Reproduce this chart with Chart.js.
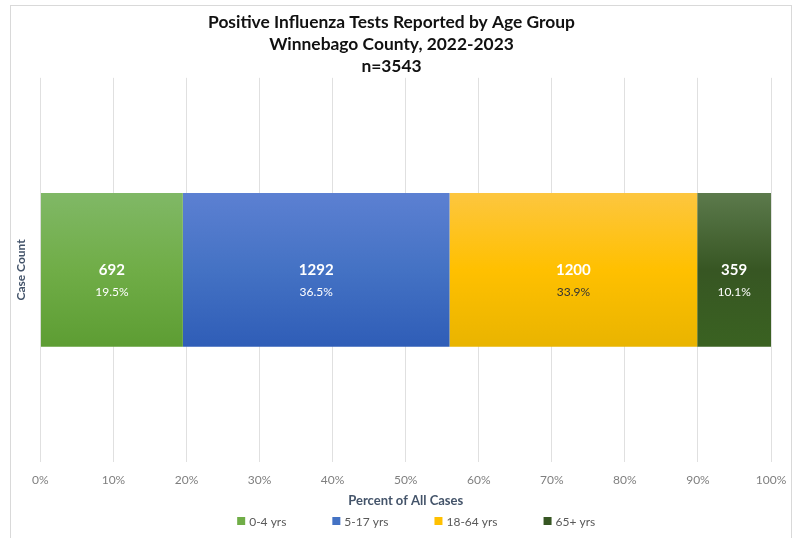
<!DOCTYPE html>
<html>
<head>
<meta charset="utf-8">
<script src="https://cdn.jsdelivr.net/npm/chart.js@4.4.0/dist/chart.umd.min.js"></script>
<style>
  body { margin: 0; background: #fff; }
  #frame { position: absolute; left: 10px; top: 5px; width: 782px; height: 545px; border: 1px solid #d9d9d9; box-sizing: border-box; overflow: hidden; }
  #frame canvas { position: absolute; left: 0; top: 0; }
</style>
</head>
<body>
<div id="frame"><canvas id="myChart" width="780" height="532"></canvas></div>
<script>
// ---- data ----
const categories = ['Case Count'];
const ageGroups = ['0-4 yrs', '5-17 yrs', '18-64 yrs', '65+ yrs'];
const caseCounts = [692, 1292, 1200, 359];
const percentValues = [19.5, 36.5, 33.9, 10.1];
const tickLabels = ['0%', '10%', '20%', '30%', '40%', '50%', '60%', '70%', '80%', '90%', '100%'];

// gradient stops top -> bottom for each series
const colorTop = ['#80b866', '#5c80d2', '#fdc63f', '#5c7a4c'];
const colorBottom = ['#5d9d33', '#2f5db7', '#e9b400', '#3a6221'];
const legendColors = ['#70ad47', '#4472c4', '#ffc000', '#375623'];
const pctTextColors = ['#ffffff', '#ffffff', '#333333', '#ffffff'];

const FONT = 'Lato, "Open Sans", sans-serif';
const BAR_PCT = 0.4;

function gradientFor(i) {
    return (ctx) => {
        const chart = ctx.chart;
        const area = chart.chartArea;
        const ys = chart.scales.y;
        if (!area || !ys) return legendColors[i];
        const cy = ys.getPixelForValue(0);
        const half = (area.bottom - area.top) * BAR_PCT / 2;
        const g = chart.ctx.createLinearGradient(0, cy - half, 0, cy + half);
        g.addColorStop(0, colorTop[i]);
        g.addColorStop(0.5, legendColors[i]);
        g.addColorStop(1, colorBottom[i]);
        return g;
    };
}

const barLabels = {
    id: 'barLabels',
    afterDatasetsDraw(chart) {
        const c = chart.ctx;
        c.save();
        c.textAlign = 'center';
        c.textBaseline = 'middle';
        chart.data.datasets.forEach((ds, i) => {
            const bar = chart.getDatasetMeta(i).data[0];
            const cx = (bar.x + bar.base) / 2;
            c.fillStyle = '#ffffff';
            c.font = 'bold 15px ' + FONT;
            c.fillText(String(caseCounts[i]), cx, bar.y);
            c.fillStyle = pctTextColors[i];
            c.font = '12px ' + FONT;
            c.fillText(percentValues[i].toFixed(1) + '%', cx, bar.y + 22);
        });
        c.restore();
    }
};

// legend row at the bottom, Excel-like spacing
const bottomLegend = {
    id: 'bottomLegend',
    afterDraw(chart) {
        const c = chart.ctx;
        const area = chart.chartArea;
        c.save();
        c.font = '12px ' + FONT;
        c.textBaseline = 'middle';
        const gap = 46, box = 8, boxGap = 4;
        const widths = chart.data.datasets.map(ds => box + boxGap + c.measureText(ds.label).width);
        const total = widths.reduce((a, b) => a + b, 0) + gap * (widths.length - 1);
        let x = (area.left + area.right) / 2 + 10.5 - total / 2;
        const y = chart.height - 17;
        chart.data.datasets.forEach((ds, i) => {
            c.fillStyle = legendColors[i];
            c.fillRect(x, y - box / 2, box, box);
            c.fillStyle = '#595959';
            c.fillText(ds.label, x + box + boxGap, y + 1);
            x += widths[i] + gap;
        });
        c.restore();
    }
};

new Chart(document.getElementById('myChart'), {
    type: 'bar',
    data: {
        labels: categories,
        datasets: ageGroups.map((name, i) => ({
            label: name,
            data: [percentValues[i]],
            backgroundColor: gradientFor(i),
            borderWidth: 0,
            barPercentage: BAR_PCT,
            categoryPercentage: 1
        }))
    },
    options: {
        indexAxis: 'y',
        responsive: false,
        animation: false,
        layout: { padding: { left: 1, right: 20, top: 0, bottom: 31 } },
        plugins: {
            title: {
                display: true,
                text: ['Positive Influenza Tests Reported by Age Group', 'Winnebago County, 2022-2023', 'n=3543'],
                font: { family: FONT, size: 17.4, weight: 'bold', lineHeight: 1.28 },
                color: '#111111',
                padding: { top: 5, bottom: 0 }
            },
            legend: { display: false },
            tooltip: { enabled: false }
        },
        scales: {
            x: {
                stacked: true,
                min: 0,
                max: 100,
                afterFit: (s) => { s.paddingRight = 0; },
                ticks: {
                    stepSize: 10,
                    padding: 12,
                    color: '#7f7f7f',
                    font: { family: FONT, size: 12, lineHeight: 1 },
                    callback: (v, idx) => tickLabels[idx]
                },
                grid: { color: '#e0e0e0', drawTicks: false },
                border: { display: false },
                title: {
                    display: true,
                    text: 'Percent of All Cases',
                    color: '#44546a',
                    font: { family: FONT, size: 13, weight: 'bold', lineHeight: 1 },
                    padding: { top: -4, bottom: 0 }
                }
            },
            y: {
                stacked: true,
                ticks: { display: false },
                grid: { display: false },
                border: { display: false },
                title: {
                    display: true,
                    text: 'Case Count',
                    color: '#44546a',
                    font: { family: FONT, size: 12, weight: 'bold' },
                    padding: { top: 2, bottom: 4 }
                }
            }
        }
    },
    plugins: [barLabels, bottomLegend]
});
</script>
</body>
</html>
